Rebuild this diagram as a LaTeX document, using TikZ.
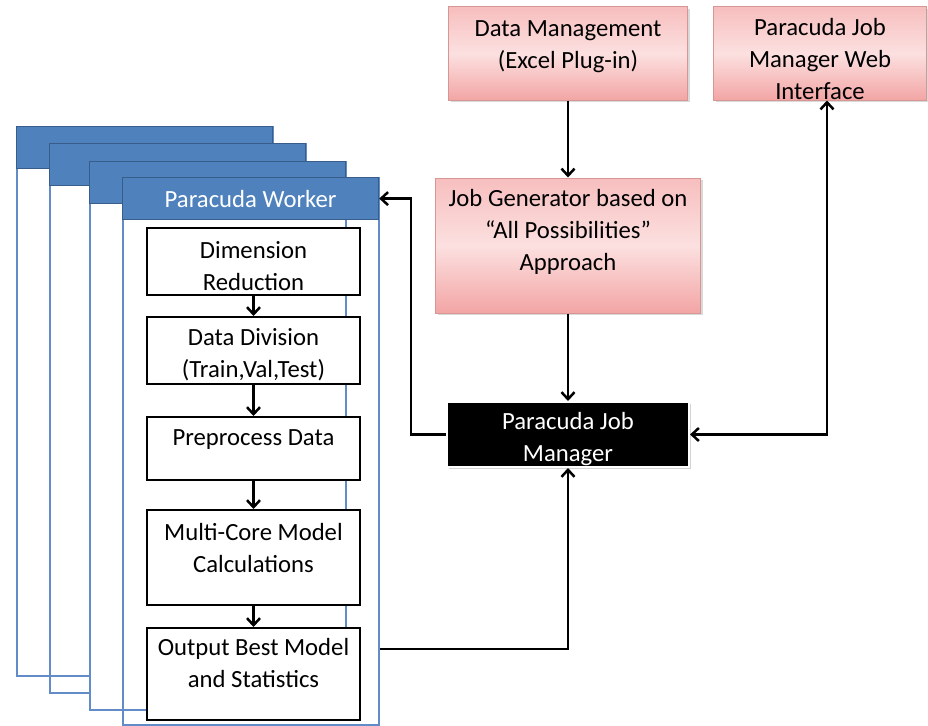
\documentclass[tikz,border=0pt]{standalone}
\usepackage{fontspec}
\setmainfont{Carlito}
\usepackage{tikz}
\usetikzlibrary{positioning,arrows.meta,shadows}

\definecolor{pinktop}{RGB}{247,190,190}
\definecolor{pinkmid}{RGB}{252,224,224}
\definecolor{pinkbot}{RGB}{243,165,165}
\definecolor{pinkline}{RGB}{214,150,148}
\definecolor{hdrblue}{RGB}{79,129,189}
\definecolor{hdrline}{RGB}{56,93,138}
\definecolor{panelline}{RGB}{98,140,200}

\begin{document}
\begin{tikzpicture}[
    x=1pt, y=1pt,
    font=\fontsize{24.7}{32}\selectfont,
    arr/.style={line width=2.5pt, -{Straight Barb[length=7pt,width=13pt]}},
    dblarr/.style={line width=2.5pt, {Straight Barb[length=7pt,width=13pt]}-{Straight Barb[length=7pt,width=13pt]}},
    pinkbox/.style={rectangle, draw=pinkline, line width=1pt, top color=pinktop, bottom color=pinkbot, middle color=pinkmid, align=center, inner sep=0pt, drop shadow={opacity=0.3, shadow xshift=2pt, shadow yshift=-2pt}},
    jobbox/.style={rectangle, draw=white, line width=2pt, fill=black, text=white, align=center, inner sep=0pt, minimum width=242, minimum height=65, drop shadow={opacity=0.35, shadow xshift=2pt, shadow yshift=-2pt}},
    panel/.style={rectangle, draw=panelline, line width=2pt, minimum width=256, inner sep=0pt},
    header/.style={rectangle, draw=hdrline, line width=1.2pt, fill=hdrblue, text=white, minimum width=256, minimum height=42, inner sep=0pt},
    stage/.style={rectangle, draw=black, line width=2pt, fill=white, minimum width=213, minimum height=67, align=center, inner sep=0pt}
]
    \useasboundingbox (0,0) rectangle (928,-725);

    \foreach \l/\t/\b/\f [count=\n] in {16/126/675/none, 49/143/692/none, 89/161/709/white, 122/177/724/none} {
        \node [panel, fill=\f, minimum height=\b-\t, anchor=north west] (body\n) at (\l,-\t) {};
        \node [header, anchor=north west] (hdr\n) at (\l,-\t) {\ifnum\n=4 Paracuda Worker\fi};
    }

    \node [stage, text height=58pt] (dimred) at (253.5,-261.5) {Dimension\\Reduction};
    \node [stage, below=20pt of dimred, text height=57pt] (datadiv) {Data Division\\(Train,Val,Test)};
    \node [stage, below=31pt of datadiv, minimum height=63, text depth=22pt] (preproc) {Preprocess Data};
    \node [stage, below=28pt of preproc, minimum height=95, text depth=20pt] (multicore) {Multi-Core Model\\Calculations};
    \node [stage, below=21pt of multicore, minimum height=92, text depth=22pt] (output) {Output Best Model\\and Statistics};

    \node [pinkbox, minimum width=239, minimum height=93, text depth=18pt] (datamgmt) at (568,-53.5) {Data Management\\(Excel Plug-in)};
    \node [pinkbox, minimum width=213, minimum height=93, text height=92pt, text depth=0pt] (webui) at (820,-53.5) {Paracuda Job\\Manager Web\\Interface};
    \node [pinkbox, minimum width=265, minimum height=135, text depth=32pt] (jobgen) at (568,-245.5) {Job Generator based on\\“All Possibilities”\\Approach};
    \node [jobbox, text height=58pt] (manager) at (568,-434.5) {Paracuda Job\\Manager};

    \draw [arr] (dimred) -- (datadiv);
    \draw [arr] (datadiv) -- (preproc);
    \draw [arr] (preproc) -- (multicore);
    \draw [arr] (multicore) -- (output);

    \draw [arr] (datamgmt) -- (jobgen);
    \draw [arr] (jobgen) -- (manager);
    \draw [dblarr] ([xshift=7pt]webui.south) |- (manager.east);
    \draw [arr] (manager.west) -- ++(-35,0) |- (hdr4.east);
    \draw [arr] ([yshift=-22pt]body4.east |- output.north) -| (manager.south);
\end{tikzpicture}
\end{document}
